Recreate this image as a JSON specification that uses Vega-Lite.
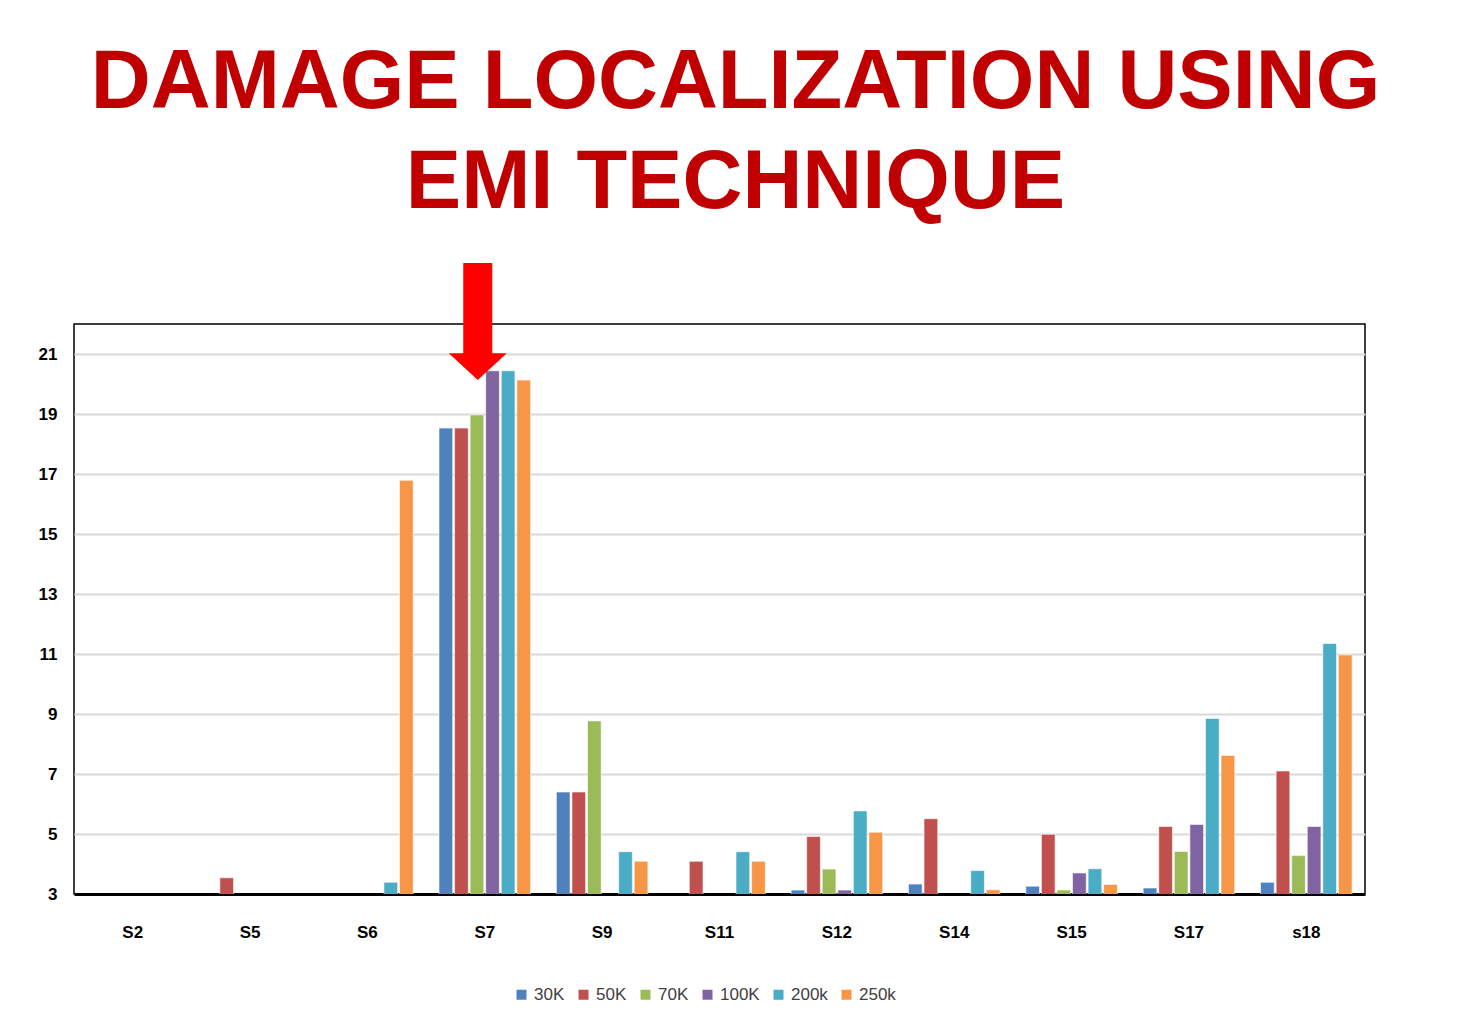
{
  "$schema": "https://vega.github.io/schema/vega-lite/v6.json",
  "width": 1291,
  "height": 570,
  "autosize": {"type": "none"},
  "padding": {"left": 74, "top": 324, "right": 107, "bottom": 126},
  "background": "white",
  "title": {
    "text": ["DAMAGE LOCALIZATION USING", "EMI TECHNIQUE"],
    "font": "Liberation Sans",
    "fontSize": 83,
    "fontWeight": "bold",
    "color": "#C00000",
    "lineHeight": 100,
    "anchor": "middle",
    "dx": 16,
    "offset": 38
  },
  "config": {"view": {"stroke": "black", "strokeWidth": 1.5}},
  "layer": [
    {
      "data": {
        "values": [
          {"sensor": "S5", "freq": "50K", "value": 3.54},
          {"sensor": "S6", "freq": "200k", "value": 3.39},
          {"sensor": "S6", "freq": "250k", "value": 16.79},
          {"sensor": "S7", "freq": "30K", "value": 18.53},
          {"sensor": "S7", "freq": "50K", "value": 18.53},
          {"sensor": "S7", "freq": "70K", "value": 18.97},
          {"sensor": "S7", "freq": "100K", "value": 20.44},
          {"sensor": "S7", "freq": "200k", "value": 20.44},
          {"sensor": "S7", "freq": "250k", "value": 20.13},
          {"sensor": "S9", "freq": "30K", "value": 6.4},
          {"sensor": "S9", "freq": "50K", "value": 6.4},
          {"sensor": "S9", "freq": "70K", "value": 8.77},
          {"sensor": "S9", "freq": "200k", "value": 4.41},
          {"sensor": "S9", "freq": "250k", "value": 4.09},
          {"sensor": "S11", "freq": "50K", "value": 4.09},
          {"sensor": "S11", "freq": "200k", "value": 4.41},
          {"sensor": "S11", "freq": "250k", "value": 4.09},
          {"sensor": "S12", "freq": "30K", "value": 3.13},
          {"sensor": "S12", "freq": "50K", "value": 4.92},
          {"sensor": "S12", "freq": "70K", "value": 3.83},
          {"sensor": "S12", "freq": "100K", "value": 3.13},
          {"sensor": "S12", "freq": "200k", "value": 5.77},
          {"sensor": "S12", "freq": "250k", "value": 5.06},
          {"sensor": "S14", "freq": "30K", "value": 3.33},
          {"sensor": "S14", "freq": "50K", "value": 5.51},
          {"sensor": "S14", "freq": "200k", "value": 3.78},
          {"sensor": "S14", "freq": "250k", "value": 3.14},
          {"sensor": "S15", "freq": "30K", "value": 3.26},
          {"sensor": "S15", "freq": "50K", "value": 4.99},
          {"sensor": "S15", "freq": "70K", "value": 3.13},
          {"sensor": "S15", "freq": "100K", "value": 3.7},
          {"sensor": "S15", "freq": "200k", "value": 3.84},
          {"sensor": "S15", "freq": "250k", "value": 3.32},
          {"sensor": "S17", "freq": "30K", "value": 3.2},
          {"sensor": "S17", "freq": "50K", "value": 5.25},
          {"sensor": "S17", "freq": "70K", "value": 4.42},
          {"sensor": "S17", "freq": "100K", "value": 5.32},
          {"sensor": "S17", "freq": "200k", "value": 8.85},
          {"sensor": "S17", "freq": "250k", "value": 7.62},
          {"sensor": "s18", "freq": "30K", "value": 3.39},
          {"sensor": "s18", "freq": "50K", "value": 7.1},
          {"sensor": "s18", "freq": "70K", "value": 4.28},
          {"sensor": "s18", "freq": "100K", "value": 5.25},
          {"sensor": "s18", "freq": "200k", "value": 11.35},
          {"sensor": "s18", "freq": "250k", "value": 10.97}
        ]
      },
      "mark": {"type": "bar", "clip": true, "stroke": "white", "strokeWidth": 0.6},
      "encoding": {
        "x": {
          "field": "sensor",
          "type": "nominal",
          "sort": null,
          "scale": {
            "domain": ["S2", "S5", "S6", "S7", "S9", "S11", "S12", "S14", "S15", "S17", "s18"],
            "paddingInner": 0.22,
            "paddingOuter": 0.11
          },
          "axis": {
            "title": null,
            "labelAngle": 0,
            "ticks": false,
            "grid": false,
            "domainColor": "black",
            "domainWidth": 3,
            "labelFont": "Liberation Sans",
            "labelFontWeight": "bold",
            "labelFontSize": 17,
            "labelColor": "black",
            "labelPadding": 30
          }
        },
        "xOffset": {
          "field": "freq",
          "type": "nominal",
          "sort": null,
          "scale": {"domain": ["30K", "50K", "70K", "100K", "200k", "250k"], "paddingInner": 0.12}
        },
        "y": {
          "field": "value",
          "type": "quantitative",
          "scale": {"domain": [3, 22], "zero": false, "nice": false},
          "axis": {
            "title": null,
            "values": [3, 5, 7, 9, 11, 13, 15, 17, 19, 21],
            "grid": true,
            "gridColor": "#D9D9D9",
            "gridWidth": 2,
            "domain": false,
            "ticks": false,
            "labelFont": "Liberation Sans",
            "labelFontWeight": "bold",
            "labelFontSize": 17,
            "labelColor": "black",
            "labelPadding": 17
          }
        },
        "color": {
          "field": "freq",
          "type": "nominal",
          "sort": null,
          "scale": {
            "domain": ["30K", "50K", "70K", "100K", "200k", "250k"],
            "range": ["#4F81BD", "#C0504D", "#9BBB59", "#8064A2", "#4BACC6", "#F79646"]
          },
          "legend": {
            "title": null,
            "orient": "none",
            "legendX": 439,
            "legendY": 662,
            "direction": "horizontal",
            "symbolType": "square",
            "symbolSize": 100,
            "symbolStrokeWidth": 0,
            "labelFont": "Liberation Sans",
            "labelFontSize": 17,
            "labelColor": "#404040",
            "labelOffset": 4,
            "columnPadding": 10,
            "padding": 0
          }
        }
      }
    },
    {
      "data": {"values": [{"sensor": "S7", "v": 22.08}]},
      "mark": {
        "type": "point",
        "filled": true,
        "clip": false,
        "color": "#FF0000",
        "opacity": 1,
        "strokeWidth": 0,
        "shape": "M -0.248 -1 L 0.248 -1 L 0.248 0.54 L 0.496 0.54 L 0 1 L -0.496 0.54 L -0.248 0.54 Z",
        "size": 13689,
        "xOffset": -7
      },
      "encoding": {
        "x": {"field": "sensor", "type": "nominal"},
        "y": {"field": "v", "type": "quantitative"}
      }
    }
  ]
}
